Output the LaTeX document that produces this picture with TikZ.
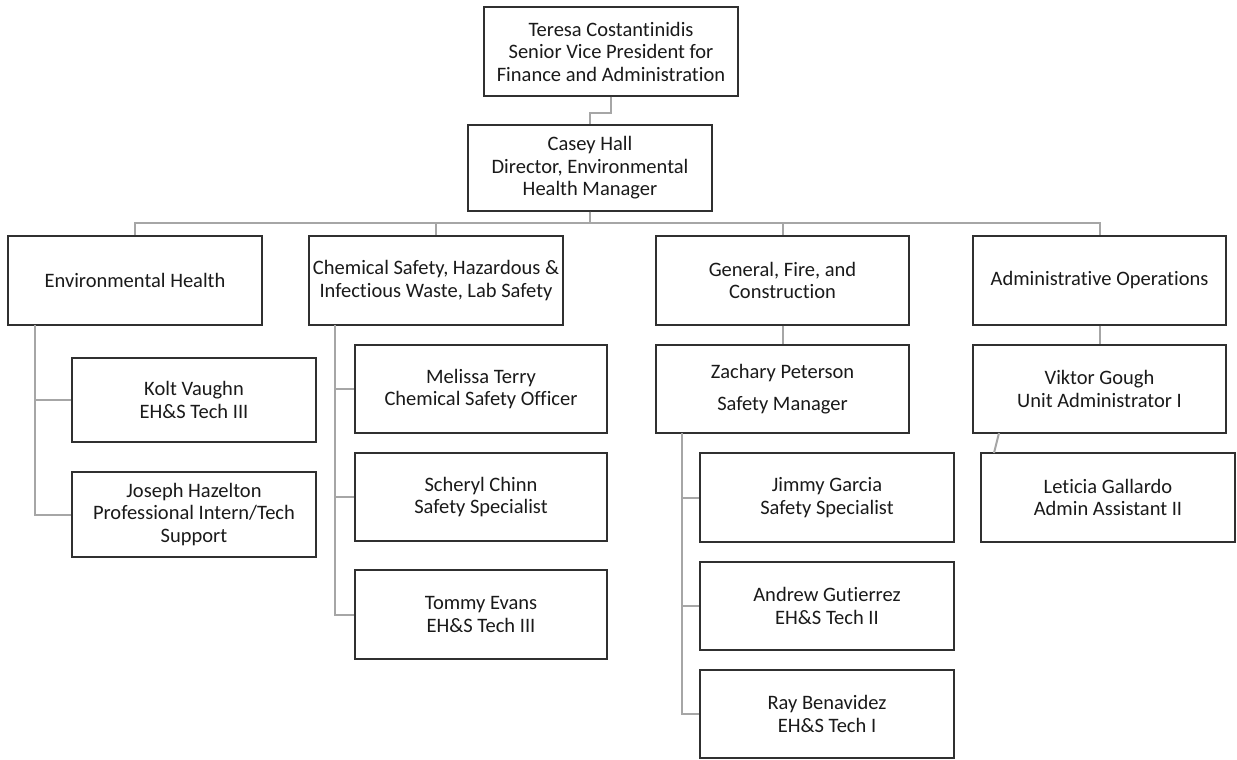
\documentclass[tikz,border=0pt]{standalone}
\usepackage{fontspec}
\setmainfont[Ligatures=NoCommon]{Carlito}
\definecolor{boxline}{HTML}{303030}
\definecolor{conn}{HTML}{A6A6A6}
\definecolor{txt}{HTML}{1A1A1A}
\tikzset{
  orgbox/.style={draw=boxline, line width=1.3pt, fill=white, rectangle, inner sep=0pt,
    align=center, text=txt, font=\fontsize{20.5}{22.5}\selectfont},
  link/.style={draw=conn, line width=2pt}
}
\newcommand{\obox}[6]{%
  \node[orgbox, minimum width={(#4-#2)*1pt}, minimum height={(#5-#3)*1pt}]
    (#1) at ({(#2+#4)/2}, {-(#3+#5)/2}) {#6};}
\begin{document}
\begin{tikzpicture}[x=1pt,y=1pt]
\useasboundingbox (0,0) rectangle (1237,-760);
\fill[white] (0,0) rectangle (1237,-760);
% nodes
\obox{top}{484}{7}{738}{96}{Teresa Costantinidis\\Senior Vice President for\\Finance and Administration}
\obox{casey}{468}{125}{712}{211}{Casey Hall\\Director, Environmental\\Health Manager}
\obox{env}{8}{236}{262}{325}{Environmental Health}
\obox{chem}{309}{236}{563}{325}{Chemical Safety, Hazardous \&\\Infectious Waste, Lab Safety}
\obox{gen}{656}{236}{909}{325}{General, Fire, and\\Construction}
\obox{adm}{973}{236}{1226}{325}{Administrative Operations}
\obox{kolt}{72}{358}{316}{442}{Kolt Vaughn\\EH\&S Tech III}
\obox{joseph}{72}{472}{316}{557}{Joseph Hazelton\\Professional Intern/Tech\\Support}
\obox{melissa}{355}{345}{607}{433}{Melissa Terry\\Chemical Safety Officer}
\obox{scheryl}{355}{453}{607}{541}{Scheryl Chinn\\Safety Specialist}
\obox{tommy}{355}{570}{607}{659}{Tommy Evans\\EH\&S Tech III}
\obox{zach}{656}{345}{909}{433}{Zachary Peterson\\[9pt]Safety Manager}
\obox{jimmy}{700}{453}{954}{542}{Jimmy Garcia\\Safety Specialist}
\obox{andrew}{700}{562}{954}{650}{Andrew Gutierrez\\EH\&S Tech II}
\obox{ray}{700}{670}{954}{758}{Ray Benavidez\\EH\&S Tech I}
\obox{viktor}{973}{345}{1226}{433}{Viktor Gough\\Unit Administrator I}
\obox{leticia}{981}{453}{1235}{542}{Leticia Gallardo\\Admin Assistant II}
% connectors
\draw[link] (top.south) -- ++(0,-16) -| (casey.north);
\foreach \n in {env,chem,gen,adm}{
  \draw[link] (casey.south) -- ++(0,-11) -| (\n.north);
}
\coordinate (e0) at (35,-325);
\draw[link] (e0) |- (kolt.west);
\draw[link] (e0) |- (joseph.west);
\coordinate (c0) at (335,-325);
\draw[link] (c0) |- (melissa.west);
\draw[link] (c0) |- (scheryl.west);
\draw[link] (c0) |- (tommy.west);
\draw[link] (gen.south) -- (zach.north);
\coordinate (z0) at (682,-433);
\draw[link] (z0) |- (jimmy.west);
\draw[link] (z0) |- (andrew.west);
\draw[link] (z0) |- (ray.west);
\draw[link] (adm.south) -- (viktor.north);
\coordinate (v0) at (999,-433);
\coordinate (l0) at (994,-453);
\draw[link] (v0) -- (l0);
\end{tikzpicture}
\end{document}
